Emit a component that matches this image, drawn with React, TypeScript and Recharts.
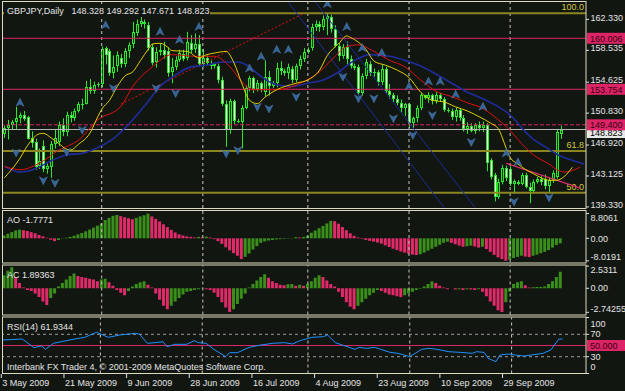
import React from "react";
import { ComposedChart, Bar, Line, XAxis, YAxis, ReferenceLine, Cell } from "recharts";

const FONT = '"Liberation Sans", Arial, sans-serif';
const BG = "#121611";
const FRAME = "#dedac2";
const TEXT = "#e4e4e4";
const WICK = "#2ee62e";
const BULL_FILL = "#123d0c";
const BEAR_FILL = "#eefcea";
const PINK = "#dc2466";
const OLIVE = "#8c8620";
const SEP = "#c6c6c0";
const AO_UP = "#3a8f1a";
const AO_DN = "#e02a6a";

const TOTAL_BARS = 150;

// x axis
const dateTicks = [0, 16, 32, 48, 64, 80, 96, 112, 128];
const dateLabels = ["3 May 2009", "21 May 2009", "9 Jun 2009", "28 Jun 2009", "16 Jul 2009", "4 Aug 2009", "23 Aug 2009", "10 Sep 2009", "29 Sep 2009"];
const monthStarts = [25, 51, 78, 104, 130];

// daily candles, GBPJPY
const opens = [
  148.3, 149.0, 149.4, 149.7, 150.2, 150.6, 150.4, 147.8, 147.3, 144.3,
  146.8, 144.0, 144.2, 147.0, 147.3, 149.4, 148.5, 150.6, 150.2, 151.1,
  151.9, 152.0, 154.0, 153.5, 154.3, 154.4, 158.8, 158.5, 155.8, 156.6,
  157.6, 156.9, 158.4, 159.3, 160.7, 161.8, 162.0, 161.6, 159.0, 157.1,
  158.3, 158.6, 158.4, 155.9, 156.5, 157.4, 158.1, 157.6, 159.4, 158.7,
  159.3, 156.9, 157.6, 156.9, 156.6, 156.6, 154.9, 152.0, 148.8, 152.3,
  149.9, 149.8, 151.5, 153.9, 155.1, 153.8, 154.5, 153.4, 155.3, 154.1,
  154.5, 156.4, 156.0, 155.8, 156.3, 154.9, 156.6, 157.5, 158.3, 158.8,
  161.4, 161.7, 161.4, 162.4, 162.6, 161.2, 159.1, 157.8, 159.0, 157.5,
  156.6, 156.5, 153.3, 155.4, 156.9, 155.7, 155.9, 154.6, 156.3, 153.6,
  153.0, 152.6, 152.1, 151.5, 151.9, 149.6, 150.2, 151.5, 153.0, 152.7,
  153.1, 152.3, 153.0, 152.6, 151.2, 151.1, 150.4, 151.2, 150.2, 148.9,
  149.3, 148.7, 149.4, 149.0, 149.4, 145.1, 143.2, 140.6, 142.4, 144.1,
  144.0, 142.2, 142.4, 142.2, 143.2, 141.8, 141.3, 142.4, 142.7, 142.8,
  141.9, 142.6, 143.0, 148.328,
];
const highs = [
  149.3, 150.0, 150.0, 151.6, 150.9, 151.1, 150.5, 148.6, 147.7, 146.5,
  147.5, 144.7, 147.4, 148.9, 149.8, 150.2, 151.0, 151.0, 151.4, 152.2,
  152.6, 154.8, 155.0, 154.7, 154.6, 159.0, 159.0, 158.7, 157.9, 158.4,
  158.1, 158.8, 159.5, 162.0, 162.3, 162.7, 162.3, 162.0, 159.3, 158.9,
  159.3, 159.6, 158.9, 157.6, 157.8, 158.6, 158.6, 160.8, 160.4, 160.6,
  160.4, 158.7, 157.9, 157.3, 157.0, 156.9, 155.3, 152.4, 152.6, 152.5,
  150.1, 151.8, 154.2, 155.4, 155.3, 154.9, 154.7, 157.3, 156.0, 154.8,
  157.0, 157.2, 156.3, 156.9, 156.6, 156.9, 157.9, 158.8, 158.9, 161.8,
  162.2, 162.1, 162.8, 163.1, 162.9, 161.6, 159.4, 159.3, 159.6, 157.9,
  156.9, 156.8, 155.7, 157.5, 157.2, 156.3, 156.1, 156.8, 156.5, 154.4,
  153.3, 153.0, 152.5, 152.1, 152.1, 150.4, 151.8, 153.3, 153.1, 153.4,
  153.2, 153.4, 153.3, 152.8, 151.5, 151.4, 151.5, 151.4, 150.6, 149.7,
  149.6, 149.6, 149.8, 149.8, 149.6, 145.3, 143.5, 142.8, 144.5, 144.4,
  144.3, 142.7, 142.6, 143.5, 143.5, 142.3, 142.7, 143.0, 143.1, 143.3,
  142.9, 143.8, 148.8, 149.292,
];
const lows = [
  147.8, 147.6, 148.8, 148.9, 149.6, 149.9, 147.6, 146.6, 143.9, 144.0,
  143.6, 143.4, 142.9, 146.5, 146.8, 148.0, 148.0, 149.7, 149.9, 150.9,
  151.3, 151.9, 153.2, 153.2, 154.0, 154.0, 156.8, 155.4, 155.1, 155.9,
  156.4, 156.5, 157.6, 158.8, 160.3, 161.4, 161.2, 158.5, 156.7, 156.4,
  157.9, 157.5, 155.3, 154.5, 156.1, 157.1, 157.2, 157.3, 158.2, 158.2,
  156.6, 156.5, 156.7, 156.2, 156.3, 154.5, 151.7, 146.7, 148.3, 149.5,
  149.6, 146.5, 151.3, 153.5, 153.3, 153.5, 153.4, 152.9, 153.0, 153.9,
  154.0, 155.5, 155.4, 155.0, 154.5, 154.6, 156.2, 157.1, 158.1, 158.5,
  160.9, 160.8, 161.0, 160.4, 160.7, 158.9, 157.2, 157.5, 156.8, 156.3,
  156.1, 153.0, 153.0, 155.0, 155.4, 155.3, 154.2, 154.3, 153.3, 152.6,
  152.2, 151.8, 150.9, 150.5, 149.0, 148.9, 149.7, 151.2, 152.5, 152.1,
  151.9, 152.0, 152.2, 151.0, 150.9, 150.0, 149.8, 149.9, 148.6, 148.3,
  148.5, 148.3, 148.6, 148.5, 143.7, 142.7, 140.0, 140.3, 142.1, 142.5,
  141.9, 141.0, 142.0, 142.0, 141.6, 139.8, 141.0, 142.2, 142.0, 141.5,
  141.0, 142.3, 142.8, 147.671,
];
const closes = [
  149.0, 149.4, 149.7, 150.2, 150.6, 150.1, 147.7, 147.2, 144.2, 145.0,
  144.0, 144.3, 147.0, 147.8, 149.4, 148.5, 150.6, 150.2, 151.1, 151.9,
  152.0, 154.0, 153.5, 154.3, 154.4, 158.7, 158.0, 155.7, 156.5, 157.9,
  156.8, 158.5, 159.2, 160.8, 161.8, 162.1, 161.7, 158.8, 157.0, 158.3,
  158.6, 158.0, 155.7, 156.5, 157.4, 158.2, 157.5, 159.5, 158.6, 159.3,
  156.8, 157.6, 157.0, 156.6, 156.8, 154.9, 152.0, 148.8, 152.3, 149.9,
  149.8, 151.5, 153.9, 155.1, 153.8, 154.5, 153.7, 155.3, 154.1, 154.5,
  156.4, 156.0, 155.8, 156.5, 154.9, 156.6, 157.5, 158.3, 158.6, 161.4,
  161.7, 161.4, 162.4, 162.8, 161.2, 159.1, 157.8, 159.0, 157.5, 156.6,
  156.4, 153.3, 155.4, 157.1, 155.7, 155.9, 154.6, 156.3, 153.6, 153.0,
  152.6, 152.1, 151.5, 151.9, 149.6, 150.2, 151.5, 153.0, 152.7, 153.1,
  152.3, 153.0, 152.6, 151.2, 151.1, 150.4, 151.2, 150.2, 148.9, 149.3,
  148.7, 149.4, 149.0, 149.4, 144.7, 143.0, 140.5, 142.4, 144.1, 142.9,
  142.2, 142.5, 142.2, 143.2, 141.8, 141.3, 142.4, 142.7, 142.4, 141.9,
  142.6, 143.5, 148.5, 148.823,
];

// Alligator lines: [bar, price]
const lipsPts: [number, number][] = [
  [0, 142.9], [4, 145.3], [6, 146.9], [9, 148.3], [10, 148.35], [12, 147.8], [14, 147.1], [16, 146.4],
  [17, 146.3], [19, 147.0], [22, 148.4], [24, 150.4], [25, 151.3], [27, 152.4], [29, 154.1], [31, 155.4],
  [33, 155.9], [35, 157.3], [37, 158.7], [38, 159.3], [40, 159.4], [42, 158.9], [43, 158.5], [47, 158.4],
  [50, 157.6], [52, 158.0], [54, 158.2], [57, 158.4], [59, 157.0], [61, 154.5], [63, 152.4], [65, 152.0],
  [67, 152.8], [70, 153.7], [75, 154.5], [78, 154.9], [81, 156.1], [83, 157.9], [86, 159.4], [88, 160.3],
  [89, 160.1], [93, 158.6], [95, 157.2], [98, 156.7], [101, 156.1], [104, 155.2], [107, 153.4], [110, 152.4],
  [113, 152.2], [116, 151.6], [119, 151.1], [122, 150.4], [125, 149.6], [127, 148.9], [128, 147.8], [129, 146.5],
  [130, 145.4], [132, 144.6], [134, 143.9], [136, 143.4], [138, 142.9], [140, 142.6], [142, 142.6], [144, 143.1],
  [146, 144.2],
];
const teethPts: [number, number][] = [
  [0, 144.3], [4, 143.9], [9, 144.7], [14, 146.3], [19, 147.5], [24, 150.0], [30, 151.7], [33, 154.1],
  [38, 156.5], [43, 158.0], [49, 157.8], [54, 157.8], [58, 156.5], [61, 154.7], [64, 153.7], [70, 153.7],
  [76, 154.5], [81, 155.9], [85, 157.8], [88, 159.0], [91, 159.2], [95, 158.4], [99, 157.3], [103, 156.5],
  [107, 154.9], [111, 153.5], [115, 152.85], [119, 152.1], [123, 151.4], [127, 150.0], [130, 148.7], [132, 147.6],
  [134, 146.6], [136, 145.7], [138, 145.1], [140, 144.6], [142, 143.9], [144, 143.6], [146, 143.8], [148, 144.2],
];
const jawPts: [number, number][] = [
  [0, 144.3], [4, 143.6], [8, 144.0], [12, 145.0], [16, 145.7], [20, 145.9], [24, 146.6], [28, 147.7],
  [32, 149.5], [36, 151.7], [40, 154.1], [44, 155.5], [48, 156.5], [52, 156.7], [56, 157.1], [60, 157.1],
  [63, 156.5], [66, 155.3], [70, 154.3], [74, 154.1], [78, 154.5], [82, 154.9], [86, 155.9], [90, 157.3],
  [94, 158.0], [99, 157.8], [103, 157.3], [107, 156.6], [111, 155.6], [115, 154.5], [119, 153.4], [123, 152.6],
  [127, 151.6], [130, 150.6], [132, 149.6], [134, 148.5], [136, 147.6], [139, 146.7], [142, 145.8], [145, 145.2],
  [149, 144.6],
];

// fractals: [bar, price of glyph]
const fractalUp: [number, number][] = [
  [4, 152.1], [26, 161.6], [40, 160.8], [45, 159.8], [50, 161.4], [63, 156.3], [66, 157.75], [70, 158.6],
  [73, 158.6], [83, 164.2], [88, 161.4], [92, 158.8], [97, 158.2], [104, 154.1], [109, 154.7], [112, 154.7],
  [116, 153.1], [123, 151.6], [129, 145.9], [132, 144.8],
];
const fractalDown: [number, number][] = [
  [3, 146.0], [10, 142.6], [13, 142.3], [16, 146.1], [20, 148.8], [28, 153.9], [39, 153.9], [44, 153.3],
  [57, 145.9], [60, 146.3], [65, 151.6], [68, 151.4], [75, 152.85], [87, 155.3], [91, 152.65], [95, 152.65],
  [100, 150.2], [105, 148.15], [110, 150.6], [120, 147.3], [131, 140.0], [140, 140.5],
];

// Awesome Oscillator
const aoValues = [
  1.0, 1.6, 2.2, 2.8, 3.1, 2.9, 2.6, 2.2, 1.8, 1.2,
  0.7, 0.2, -0.5, -1.0, -0.6, -0.1, 0.2, 0.5, 0.9, 1.4,
  1.9, 2.5, 3.1, 3.8, 4.5, 5.3, 6.5, 7.3, 8.0, 8.3,
  7.9, 7.5, 7.1, 6.8, 7.3, 7.8, 8.2, 8.8, 7.8, 6.9,
  6.0, 5.0, 4.0, 3.0, 2.1, 1.4, 1.0, 0.7, 0.5, 0.3,
  0.5, 0.4, 0.6, 0.3, -0.3, -1.0, -2.0, -3.2, -4.3, -5.3,
  -6.2, -7.4, -6.6, -5.4, -4.0, -2.8, -1.6, -1.1, -0.8, -0.6,
  -0.4, -0.3, -0.2, -0.1, 0.1, 0.4, 0.3, 0.5, 0.8, 2.0,
  2.8, 3.6, 4.4, 5.3, 6.2, 6.1, 5.2, 4.0, 2.9, 1.8,
  0.9, 0.3, -0.2, -0.6, -0.9, -1.2, -1.5, -1.9, -2.5, -3.1,
  -3.7, -4.2, -4.7, -5.1, -5.5, -5.8, -5.95, -5.7, -5.1, -4.4,
  -3.7, -3.0, -2.3, -1.6, -1.2, -1.6, -2.1, -2.6, -3.0, -2.8,
  -2.6, -2.9, -3.3, -3.0, -3.8, -4.8, -5.9, -6.8, -7.4, -8.0,
  -7.5, -7.0, -6.6, -6.2, -6.5, -6.7, -6.2, -5.8, -5.3, -4.8,
  -4.2, -3.3, -2.4, -1.7771,
];
// Accelerator Oscillator
const acValues = [
  1.5, 2.0, 2.4, 1.3, 0.6, 0.1, -0.2, -0.3, -0.6, -1.0,
  -1.5, -1.9, -1.1, -0.6, 0.2, 0.6, 1.0, 1.4, 1.7, 1.4,
  1.3, 1.2, 1.1, 1.0, 0.8, 1.0, 1.1, 0.7, 0.3, -0.2,
  -0.5, -0.8, -0.3, 0.2, 0.5, 0.7, 0.8, 0.4, 0.1, -0.6,
  -1.3, -2.0, -2.4, -2.0, -1.5, -1.1, -0.7, -0.4, -0.3, -0.2,
  -0.1, 0.05, -0.1, -0.2, -0.5, -1.0, -1.6, -2.2, -2.7, -2.4,
  -1.8, -1.2, -0.6, 0.1, 0.5, 0.9, 1.3, 1.6, 1.2, 0.8,
  0.6, 0.4, 0.35, 0.45, 0.5, 0.3, 0.4, 0.3, 0.5, 0.8,
  1.2, 1.5, 1.3, 0.9, 0.5, 0.2, -0.4, -1.0, -1.6, -2.1,
  -2.4, -2.0, -1.6, -1.2, -0.8, -0.5, -0.2, -0.3, -0.5, -0.7,
  -0.8, -0.9, -1.0, -0.8, -0.6, -0.4, -0.2, -0.05, 0.2, 0.5,
  0.8, 0.6, 0.3, 0.1, -0.1, 0.0, -0.15, -0.1, -0.2, -0.1,
  -0.15, -0.2, -0.1, -0.4, -0.9, -1.5, -2.0, -2.5, -2.7, -1.6,
  -0.4, 0.5, 0.7, 0.8, 0.35, 0.1, 0.12, 0.14, 0.16, 0.2,
  0.5, 0.8, 1.3, 1.89363,
];
// RSI(14): [bar, value]
const rsiPts: [number, number][] = [
  [0, 59.8], [2, 60.5], [5, 61.6], [6, 56.8], [8, 46.1], [10, 49.1], [11, 43.1], [13, 53.9], [15, 56.8],
  [18, 61.0], [21, 64.6], [24, 73.6], [27, 64.6], [30, 68.8], [34, 71.8], [35, 70.0], [37, 53.9], [39, 55.1],
  [41, 56.8], [42, 47.9], [44, 52.1], [47, 52.1], [49, 58.6], [50, 55.1], [52, 53.9], [54, 43.1], [57, 30.1],
  [58, 37.2], [60, 37.2], [63, 46.7], [66, 50.9], [69, 53.9], [72, 55.1], [74, 52.7], [76, 58.6], [79, 64.6],
  [82, 65.8], [83, 68.8], [85, 55.1], [88, 47.9], [90, 43.1], [91, 46.7], [93, 44.9], [95, 46.7], [99, 37.7],
  [101, 36.0], [104, 30.1], [107, 43.1], [109, 44.9], [111, 43.1], [114, 38.9], [117, 37.7], [120, 36.0],
  [121, 38.9], [123, 37.7], [124, 27.1], [126, 21.1], [127, 33.0], [129, 34.8], [131, 33.0], [133, 31.2],
  [135, 33.0], [138, 36.0], [140, 42.0], [142, 61.0], [143, 61.9],
];

const priceTicks = [162.33, 158.535, 154.625, 150.83, 146.92, 143.125, 139.33];
const aoTicks = [8.8061, 0, -8.0191];
const acTicks = [2.5311, 0, -2.74255];
const rsiTicks = [100, 70, 30, 0];

type Row = Record<string, any>;
const rows: Row[] = Array.from({ length: TOTAL_BARS }, (_, i) => ({
  i,
  o: opens[i], h: highs[i], l: lows[i], c: closes[i],
  lips: null, teeth: null, jaw: null, fu: null, fd: null, rsi: null,
  ao: aoValues[i], ac: acValues[i],
}));
lipsPts.forEach(([i, v]) => (rows[i].lips = v));
teethPts.forEach(([i, v]) => (rows[i].teeth = v));
jawPts.forEach(([i, v]) => (rows[i].jaw = v));
fractalUp.forEach(([i, v]) => (rows[i].fu = v));
fractalDown.forEach(([i, v]) => (rows[i].fd = v));
rsiPts.forEach(([i, v]) => (rows[i].rsi = v));

const upColor = (arr: number[], i: number) => (i === 0 || arr[i] > arr[i - 1] ? AO_UP : AO_DN);

function Candle(props: any) {
  const { x, y, width, height, payload } = props;
  if (payload == null || payload.h == null || !Number.isFinite(y)) return <g />;
  const top = Math.min(y, y + height);
  const span = Math.abs(height);
  const yOf = (p: number) => top + ((payload.h - p) / (payload.h - payload.l)) * span;
  const left = Math.round(x + width / 2) - 1;
  const b0 = Math.round(Math.min(yOf(payload.o), yOf(payload.c)));
  const b1 = Math.round(Math.max(yOf(payload.o), yOf(payload.c)));
  const bh = Math.max(1, b1 - b0);
  const up = payload.c >= payload.o;
  return (
    <g>
      <rect x={left + 1} y={top} width={1} height={Math.max(1, span)} fill={WICK} />
      <rect x={left} y={b0} width={3} height={bh} fill={WICK} />
      {bh > 2 && <rect x={left + 1} y={b0 + 1} width={1} height={bh - 2} fill={up ? BULL_FILL : BEAR_FILL} />}
    </g>
  );
}

const fractalDot = (dir: "up" | "down") => (p: any) => {
  const key = `${dir}${p.index}`;
  if (p.value == null || p.cy == null || !Number.isFinite(p.cy)) return <g key={key} />;
  const { cx, cy } = p;
  const s = dir === "up" ? 1 : -1;
  const d = `M${cx},${cy - 4.5 * s} L${cx + 4},${cy + 3.5 * s} L${cx},${cy + 1.3 * s} L${cx - 4},${cy + 3.5 * s} Z`;
  return <path key={key} d={d} fill="#33649a" stroke="#5a88bc" strokeWidth={0.4} />;
};

const makeTick = (offsets: Record<string, number>, fmt: (v: number) => string) => (props: any) => {
  const { y, payload } = props;
  const v = Number(payload.value);
  const dy = offsets[String(v)] ?? 0;
  return (
    <g>
      <line x1={586} x2={589} y1={y} y2={y} stroke={TEXT} />
      <text x={590.5} y={y + dy + 3.2} fontFamily={FONT} fontSize={9} fill={TEXT}>{fmt(v)}</text>
    </g>
  );
};

const PriceTick = makeTick(
  Object.fromEntries(priceTicks.map((t) => [String(t), -2])),
  (v) => v.toFixed(3)
);
const AoTick = makeTick({ "8.8061": 4, "-8.0191": -4 }, (v) => (v === 0 ? "0.00" : String(v)));
const AcTick = makeTick({ "2.5311": 4, "-2.74255": -4 }, (v) => (v === 0 ? "0.00" : String(v)));
const RsiTick = makeTick({ "100": 6.5, "70": -1, "30": 0, "0": -6.8 }, (v) => String(v));

const DateTick = (p: any) => {
  const idx = dateTicks.indexOf(Number(p.payload.value));
  const x = p.x - 1.2;
  return (
    <g>
      <line x1={x} x2={x} y1={374} y2={378} stroke={TEXT} />
      <text x={x + 1} y={385.5} fontFamily={FONT} fontSize={9} fill={TEXT}>{dateLabels[idx]}</text>
    </g>
  );
};

const priceBox = (text: string, fill: string, color: string, shift = 0) => (props: any) => {
  const y = (props?.viewBox?.y ?? 0) + shift;
  return (
    <g>
      <rect x={587} y={y - 5.5} width={40} height={11} fill={fill} />
      <text x={590} y={y + 3.3} fontFamily={FONT} fontSize={9} fill={color}>{text}</text>
    </g>
  );
};

const fiboLabel = (text: string) => (props: any) => {
  const y = props?.viewBox?.y ?? 0;
  return (
    <text x={584} y={y - 3} textAnchor="end" fontFamily={FONT} fontSize={9} fill="#cfc83c">{text}</text>
  );
};

const chartBox: React.CSSProperties = { position: "absolute", left: 0, top: 0 };
const W = 625;
const H = 391;

export default function App() {
  const seps = monthStarts.map((m) => (
    <ReferenceLine key={`s${m}`} x={m} stroke={SEP} strokeDasharray="3 3" />
  ));
  return (
    <div style={{ position: "absolute", left: 0, top: 0, width: W, height: H, background: BG, overflow: "hidden" }}>
      {/* main price panel */}
      <div style={chartBox}>
        <ComposedChart width={W} height={H} data={rows} margin={{ top: 2, right: 0, bottom: H - 208, left: 2.5 }}>
          <XAxis dataKey="i" hide />
          <YAxis orientation="right" width={39} domain={[139.2, 164.456]} allowDataOverflow ticks={priceTicks}
            interval={0} tick={PriceTick} tickLine={false} axisLine={false} />
          {seps}
          <ReferenceLine y={163.07} stroke={OLIVE} strokeWidth={2} label={fiboLabel("100.0")} />
          <ReferenceLine y={146.19} stroke={OLIVE} strokeWidth={2} label={fiboLabel("61.8")} />
          <ReferenceLine y={141.08} stroke={OLIVE} strokeWidth={2} label={fiboLabel("50.0")} />
          <ReferenceLine y={160.006} stroke={PINK} label={priceBox("160.006", PINK, "#3a0010")} />
          <ReferenceLine y={153.754} stroke={PINK} label={priceBox("153.754", PINK, "#3a0010")} />
          <ReferenceLine y={148.823} stroke="#b4b4b4" label={priceBox("148.823", "#e8e8e8", "#000000", 3)} />
          <ReferenceLine y={149.4} stroke={PINK} strokeDasharray="4 2" label={priceBox("149.400", PINK, "#3a0010")} />
          <ReferenceLine segment={[{ x: 30, y: 151.95 }, { x: 77, y: 163.07 }]} stroke="#e01010" strokeDasharray="2 2" />
          <ReferenceLine segment={[{ x: 73, y: 164.4 }, { x: 113, y: 139.25 }]} stroke="#1c2a96" ifOverflow="hidden" />
          <ReferenceLine segment={[{ x: 80, y: 164.4 }, { x: 121, y: 139.25 }]} stroke="#1c2a96" ifOverflow="hidden" />
          <ReferenceLine segment={[{ x: 129, y: 144.68 }, { x: 148, y: 141.65 }]} stroke="#e0306a" strokeWidth={1.3} />
          <Bar dataKey={(d: Row) => (d.h == null ? null : [d.l, d.h])} shape={Candle} isAnimationActive={false} />
          <Line dataKey="jaw" type="monotone" stroke="#1f2c9c" strokeWidth={1.6} dot={false} connectNulls isAnimationActive={false} />
          <Line dataKey="teeth" type="monotone" stroke="#e01010" strokeWidth={1} dot={false} connectNulls isAnimationActive={false} />
          <Line dataKey="lips" type="monotone" stroke="#e0d000" strokeWidth={1} dot={false} connectNulls isAnimationActive={false} />
          <Line dataKey="fu" stroke="none" dot={fractalDot("up")} activeDot={false} isAnimationActive={false} />
          <Line dataKey="fd" stroke="none" dot={fractalDot("down")} activeDot={false} isAnimationActive={false} />
        </ComposedChart>
      </div>

      {/* AO panel */}
      <div style={chartBox}>
        <ComposedChart width={W} height={H} data={rows} margin={{ top: 211, right: 0, bottom: H - 262, left: 2.5 }}>
          <XAxis dataKey="i" hide />
          <YAxis orientation="right" width={39} domain={[-8.43, 9.72]} allowDataOverflow ticks={aoTicks}
            interval={0} tick={AoTick} tickLine={false} axisLine={false} />
          {seps}
          <Bar dataKey="ao" barSize={3} isAnimationActive={false}>
            {rows.map((r, i) => (
              <Cell key={i} fill={upColor(aoValues, i)} />
            ))}
          </Bar>
        </ComposedChart>
      </div>

      {/* AC panel */}
      <div style={chartBox}>
        <ComposedChart width={W} height={H} data={rows} margin={{ top: 265.5, right: 0, bottom: H - 314.5, left: 2.5 }}>
          <XAxis dataKey="i" hide />
          <YAxis orientation="right" width={39} domain={[-2.99, 2.6]} allowDataOverflow ticks={acTicks}
            interval={0} tick={AcTick} tickLine={false} axisLine={false} />
          {seps}
          <Bar dataKey="ac" barSize={3} isAnimationActive={false}>
            {rows.map((r, i) => (
              <Cell key={i} fill={upColor(acValues, i)} />
            ))}
          </Bar>
        </ComposedChart>
      </div>

      {/* RSI panel with date axis */}
      <div style={chartBox}>
        <ComposedChart width={W} height={H} data={rows} margin={{ top: 317.5, right: 0, bottom: 0, left: 2.5 }}>
          <XAxis dataKey="i" height={17.5} ticks={dateTicks} interval={0} tick={DateTick} tickLine={false} axisLine={false} />
          <YAxis orientation="right" width={39} domain={[0, 100]} ticks={rsiTicks}
            interval={0} tick={RsiTick} tickLine={false} axisLine={false} />
          {seps}
          <ReferenceLine y={70} stroke="#9a9a9a" strokeDasharray="3 3" />
          <ReferenceLine y={30} stroke="#9a9a9a" strokeDasharray="3 3" />
          <ReferenceLine y={50} stroke={PINK} label={priceBox("50.000", PINK, "#3a0010")} />
          <Line dataKey="rsi" stroke="#1e90ff" strokeWidth={1} dot={false} connectNulls isAnimationActive={false} />
        </ComposedChart>
      </div>

      {/* frames and captions */}
      <svg width={W} height={H} style={{ position: "absolute", left: 0, top: 0, pointerEvents: "none" }}>
        <rect x={2.5} y={1.5} width={583.5} height={207} fill="none" stroke={FRAME} />
        <rect x={2.5} y={210.5} width={583.5} height={52.5} fill="none" stroke={FRAME} />
        <rect x={2.5} y={265} width={583.5} height={50} fill="none" stroke={FRAME} />
        <rect x={2.5} y={317} width={583.5} height={56.5} fill="none" stroke={FRAME} />
        <rect x={4} y={4} width={206} height={13} fill={BG} />
        <g fontFamily={FONT} fontSize={9} fill={TEXT}>
          <text x={7} y={14}>GBPJPY,Daily</text>
          <text x={71.5} y={14}>148.328</text>
          <text x={106.5} y={14}>149.292</text>
          <text x={141.5} y={14}>147.671</text>
          <text x={177} y={14}>148.823</text>
          <text x={7} y={223.2}>AO -1.7771</text>
          <text x={7} y={278.2}>AC 1.89363</text>
          <text x={7} y={330}>RSI(14) 61.9344</text>
          <text x={7} y={370}>Interbank FX Trader 4, © 2001-2009 MetaQuotes Software Corp.</text>
        </g>
      </svg>
    </div>
  );
}
